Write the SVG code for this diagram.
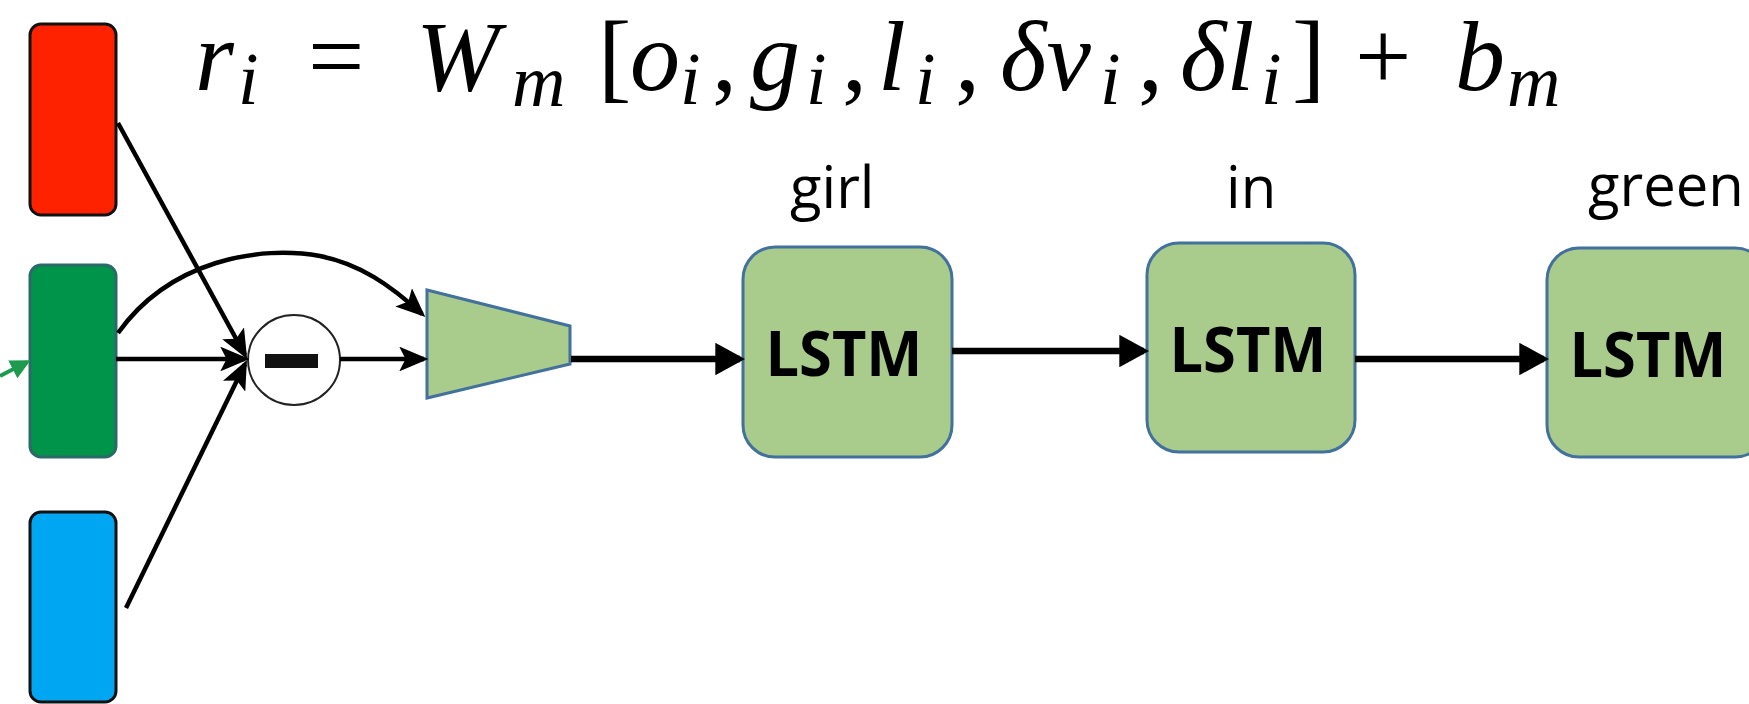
<svg xmlns="http://www.w3.org/2000/svg" width="1749" height="704" viewBox="0 0 1749 704">
<defs>
<style>
.lstm{fill:#A9CB8C;stroke:#41719C;stroke-width:3}
.lt{font-family:"Open Sans","Liberation Sans",sans-serif;font-weight:bold;font-size:62px;fill:#000;text-anchor:middle}
.lbl{font-family:"Open Sans","Liberation Sans",sans-serif;font-size:58px;fill:#000}
.thin{stroke:#000;stroke-width:4.5;fill:none}
.thick{stroke:#000;stroke-width:6.5;fill:none}
.f{font-family:"Liberation Serif","Times New Roman",serif;font-style:italic;fill:#000}
.fr{font-family:"Liberation Serif","Times New Roman",serif;fill:#000}
</style>
<marker id="ah" markerWidth="6.5" markerHeight="5.5" refX="5.5" refY="2.75" orient="auto" markerUnits="strokeWidth">
<path d="M0,0 L6.5,2.75 L0,5.5 L1.4,2.75 z" fill="#000"/>
</marker>
<marker id="ahb" markerWidth="4.6" markerHeight="5" refX="3.8" refY="2.5" orient="auto" markerUnits="strokeWidth">
<path d="M0,0 L4.6,2.5 L0,5 z" fill="#000"/>
</marker>
<marker id="ahg" markerWidth="5" markerHeight="5" refX="4" refY="2.5" orient="auto" markerUnits="strokeWidth">
<path d="M0,0 L5,2.5 L0,5 z" fill="#1E9A4E"/>
</marker>
</defs>
<rect width="1749" height="704" fill="#fff"/>

<g id="formula">
<text class="f" font-size="100" x="195" y="90">r</text>
<text class="f" font-size="74" x="238" y="104">i</text>
<text class="fr" font-size="100" x="308" y="90">=</text>
<text class="f" font-size="100" x="416" y="90">W</text>
<text class="f" font-size="74" x="512" y="106">m</text>
<text class="fr" font-size="100" x="598" y="90">[</text>
<text class="f" font-size="100" x="630" y="90">o</text>
<text class="f" font-size="74" x="680" y="104">i</text>
<text class="fr" font-size="100" x="712" y="90">,</text>
<text class="f" font-size="100" x="750" y="90">g</text>
<text class="f" font-size="74" x="806" y="104">i</text>
<text class="fr" font-size="100" x="842" y="90">,</text>
<text class="f" font-size="100" x="878" y="90">l</text>
<text class="f" font-size="74" x="915" y="104">i</text>
<text class="fr" font-size="100" x="955" y="90">,</text>
<text class="f" font-size="100" x="1000" y="90">δv</text>
<text class="f" font-size="74" x="1100" y="104">i</text>
<text class="fr" font-size="100" x="1138" y="90">,</text>
<text class="f" font-size="100" x="1180" y="90">δl</text>
<text class="f" font-size="74" x="1261" y="104">i</text>
<text class="fr" font-size="100" x="1292" y="90">]</text>
<text class="fr" font-size="100" x="1355" y="90">+</text>
<text class="f" font-size="100" x="1455" y="90">b</text>
<text class="f" font-size="74" x="1507" y="106">m</text>
</g>

<g id="red-vec"><rect x="30" y="24" width="86" height="191" rx="11" fill="#FF2200" stroke="#111" stroke-width="3"/></g>
<g id="green-vec"><rect x="30" y="265" width="86" height="192" rx="11" fill="#00934A" stroke="#2C6A6A" stroke-width="3"/></g>
<g id="blue-vec"><rect x="30" y="512" width="86" height="190" rx="11" fill="#00A6F2" stroke="#111" stroke-width="3"/></g>

<g id="minus-op">
<ellipse cx="294" cy="360" rx="46" ry="45" fill="#fff" stroke="#222" stroke-width="2"/>
<rect x="265" y="354" width="53" height="14" fill="#111"/>
</g>

<g id="fc-layer"><polygon points="427,290 570,326 570,364 427,398" fill="#A9CB8C" stroke="#41719C" stroke-width="3"/></g>

<g id="lstm1"><rect class="lstm" x="743" y="247" width="209" height="210" rx="32"/><text class="lt" x="844" y="376" textLength="157" lengthAdjust="spacingAndGlyphs">LSTM</text><text class="lbl" x="790" y="208">girl</text></g>
<g id="lstm2"><rect class="lstm" x="1147" y="243" width="208" height="209" rx="32"/><text class="lt" x="1248" y="372" textLength="157" lengthAdjust="spacingAndGlyphs">LSTM</text><text class="lbl" x="1226" y="208">in</text></g>
<g id="lstm3"><rect class="lstm" x="1547" y="248" width="220" height="209" rx="32"/><text class="lt" x="1648" y="377" textLength="157" lengthAdjust="spacingAndGlyphs">LSTM</text><text class="lbl" x="1588" y="206">green</text></g>

<g id="connectors">
<line class="thin" x1="118" y1="123" x2="245" y2="355" marker-end="url(#ah)"/>
<line class="thin" x1="126" y1="608" x2="245" y2="364" marker-end="url(#ah)"/>
<line class="thin" x1="116" y1="359" x2="245" y2="359" marker-end="url(#ah)"/>
<line class="thin" x1="340" y1="359" x2="424" y2="359" marker-end="url(#ah)"/>
<path class="thin" d="M118,333 C170,260 260,245 320,256 C360,264 390,285 422,314" marker-end="url(#ah)"/>
<line class="thick" x1="571" y1="359" x2="740" y2="359" marker-end="url(#ahb)"/>
<line class="thick" x1="952" y1="351" x2="1144" y2="351" marker-end="url(#ahb)"/>
<line class="thick" x1="1355" y1="359" x2="1544" y2="359" marker-end="url(#ahb)"/>
<line x1="0" y1="376" x2="27" y2="362" stroke="#1E9A4E" stroke-width="4" marker-end="url(#ahg)"/>
</g>
</svg>
